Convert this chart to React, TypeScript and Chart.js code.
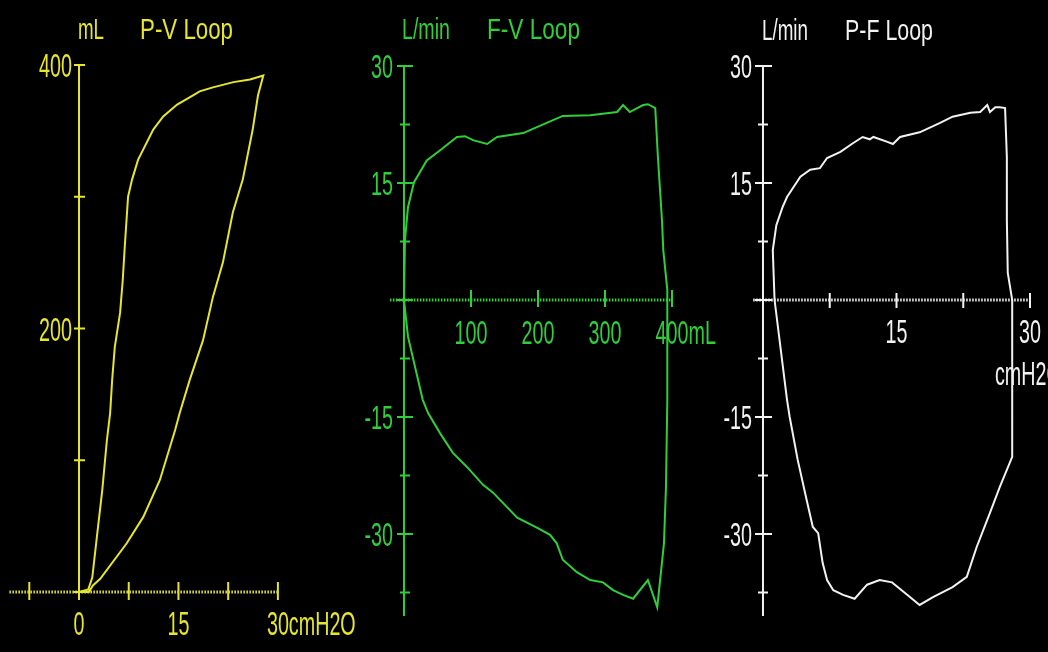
import React, { useEffect, useRef } from "react";
import { Chart, registerables } from "chart.js";

Chart.register(...registerables);

// ---------- P-V loop (pressure cmH2O, volume mL) ----------
const pvPressure = [0, 1.5, 2.1, 3.2, 7.2, 9.7, 12.2, 14.5, 15.2, 16.7, 18.7, 20.2, 21.7, 23.2, 24.7, 26.2, 27.0, 27.8, 25.8, 23.3, 20.2, 18.2, 17.2, 14.8, 12.7, 11.2, 8.9, 8.0, 7.4, 6.9, 6.6, 6.2, 5.4, 5.0, 4.7, 4.2, 3.5, 2.7, 2.0, 1.4, 0];
const pvVolume = [0, 0, 5, 10, 37, 57, 85, 123, 136, 161, 191, 224, 250, 288, 313, 351, 377, 392, 389, 387, 383, 380, 377, 370, 361, 351, 328, 313, 300, 262, 237, 212, 186, 161, 136, 115, 77, 42, 11, 2, 0];

// ---------- F-V loop (volume mL, flow L/min) ----------
const fvVolume = [0, 1.5, 6, 15, 34, 54, 79, 91, 103, 124, 139, 178, 213, 237, 278, 318, 327, 337, 348, 357, 364, 375, 379, 385, 387, 393, 393, 391, 388, 378, 364, 342, 327, 312, 297, 278, 258, 237, 228, 218, 199, 169, 133, 118, 94, 73, 54, 36, 28, 6, 0];
const fvFlow = [0, 7.7, 11.9, 15.1, 17.9, 19.2, 20.9, 21.0, 20.5, 20.0, 20.9, 21.4, 22.7, 23.6, 23.7, 24.1, 25.0, 24.1, 24.6, 25.0, 25.1, 24.6, 18.3, 10.3, 6.4, 1.3, -12.8, -24.0, -31.2, -39.4, -35.9, -38.3, -37.8, -37.2, -36.2, -35.9, -34.9, -33.3, -31.2, -30.1, -29.2, -27.9, -24.7, -23.7, -21.4, -19.6, -17.1, -14.5, -12.8, -4.7, 0];

// ---------- P-F loop (pressure cmH2O, flow L/min) ----------
const pfPressure = [1.3, 1.1, 1.5, 2.2, 2.7, 4.2, 5.3, 6.4, 7.2, 8.7, 10.1, 11.2, 12.0, 12.4, 13.9, 14.6, 15.4, 17.6, 19.9, 21.3, 23.3, 24.4, 25.2, 25.5, 26.1, 26.6, 27.2, 27.4, 27.4, 27.5, 28.0, 28.0, 26.6, 25.5, 24.0, 22.9, 21.3, 19.1, 17.6, 16.2, 14.5, 13.1, 11.7, 10.3, 9.0, 7.9, 7.2, 6.7, 6.2, 5.6, 4.9, 3.9, 3.0, 2.7, 1.3];
const pfFlow = [0, 6.4, 9.6, 11.9, 13.2, 15.8, 16.7, 16.9, 18.2, 19.0, 20.1, 20.9, 20.6, 20.9, 20.3, 20.0, 20.9, 21.5, 22.7, 23.5, 24.0, 24.1, 25.0, 24.1, 24.7, 24.7, 24.6, 18.3, 10.3, 3.5, 0, -20.1, -24.0, -27.3, -31.7, -35.5, -36.8, -38.1, -39.1, -37.8, -36.2, -35.9, -36.5, -38.3, -37.8, -37.2, -35.9, -33.7, -29.9, -29.1, -25.6, -20.5, -15.0, -12.8, 0];

// ---------- ticks & labels ----------
const pvXTicks = [-7.5, 0, 7.5, 15, 22.5, 30];
const pvXLabelValues = [0, 15, 30];
const pvXLabelTexts = ["0", "15", "30"];
const pvXLabelSuffix = ["", "", "cmH2O"];
const pvYTicks = [0, 100, 200, 300, 400];
const pvYLabelValues = [400, 200];
const pvYLabelTexts = ["400", "200"];

const flowMajorTicks = [30, 15, 0, -15, -30];
const flowMinorTicks = [22.5, 7.5, -7.5, -22.5, -37.5];
const flowLabelValues = [30, 15, -15, -30];
const flowLabelTexts = ["30", "15", "-15", "-30"];

const fvXTicks = [100, 200, 300, 400];
const fvXLabelValues = [100, 200, 300, 400];
const fvXLabelTexts = ["100", "200", "300", "400"];
const fvXLabelSuffix = ["", "", "", "mL"];

const pfXTicks = [7.5, 15, 22.5, 30];
const pfXLabelValues = [15, 30];
const pfXLabelTexts = ["15", "30"];
const pfXLabelSuffix = ["", ""];

const YELLOW = "#e6e62e";
const GREEN = "#2fcf3a";
const WHITE = "#f2f2f2";
const FONT = '"Liberation Sans", Arial, sans-serif';
const NUM_SIZE = 34;
const NUM_SX = 0.58;

function drawText(ctx: CanvasRenderingContext2D, text: string, x: number, y: number, align: CanvasTextAlign, size: number, sx: number) {
  ctx.save();
  ctx.font = `${size}px ${FONT}`;
  ctx.textAlign = align;
  ctx.textBaseline = "alphabetic";
  ctx.translate(x, y);
  ctx.scale(sx, 1);
  ctx.fillText(text, 0, 0);
  ctx.restore();
}

function drawFit(ctx: CanvasRenderingContext2D, text: string, x: number, y: number, width: number, size: number) {
  ctx.save();
  ctx.font = `${size}px ${FONT}`;
  const w = ctx.measureText(text).width;
  ctx.restore();
  drawText(ctx, text, x, y, "left", size, width / w);
}

type Deco = {
  color: string;
  yMajor: number[];
  yMinor: number[];
  yMajorExt: [number, number];
  yMinorExt: [number, number];
  xTicks: number[];
  xTickExt: [number, number];
  yLabelValues: number[];
  yLabelTexts: string[];
  yLabelGap: number;
  xLabelValues: number[];
  xLabelTexts: string[];
  xLabelSuffix: string[];
  xLabelDrop: number;
  titles: { t: string; x: number; y: number; w: number }[];
  extra?: { t: string; x: number; y: number }[];
};

function decoPlugin(d: Deco) {
  return {
    id: "loopAxes",
    afterDraw(chart: any) {
      const ctx: CanvasRenderingContext2D = chart.ctx;
      const xs = chart.scales.x;
      const ys = chart.scales.y;
      const ax = xs.getPixelForValue(0);
      const ay = ys.getPixelForValue(0);
      ctx.save();
      ctx.strokeStyle = d.color;
      ctx.fillStyle = d.color;
      // dotted x axis
      ctx.lineWidth = 3;
      ctx.setLineDash([1.5, 1.5]);
      ctx.beginPath();
      ctx.moveTo(xs.getPixelForValue(xs.min), ay);
      ctx.lineTo(xs.getPixelForValue(xs.max), ay);
      ctx.stroke();
      ctx.setLineDash([]);
      // solid y axis
      ctx.lineWidth = 2;
      ctx.beginPath();
      ctx.moveTo(ax, ys.getPixelForValue(ys.max));
      ctx.lineTo(ax, ys.getPixelForValue(ys.min));
      ctx.stroke();
      // y ticks
      const ytick = (v: number, ext: [number, number]) => {
        const p = ys.getPixelForValue(v);
        ctx.beginPath();
        ctx.moveTo(ax - ext[0], p);
        ctx.lineTo(ax + ext[1], p);
        ctx.stroke();
      };
      d.yMajor.forEach((v) => ytick(v, d.yMajorExt));
      d.yMinor.forEach((v) => ytick(v, d.yMinorExt));
      // x ticks
      d.xTicks.forEach((v) => {
        const p = xs.getPixelForValue(v);
        ctx.beginPath();
        ctx.moveTo(p, ay - d.xTickExt[0]);
        ctx.lineTo(p, ay + d.xTickExt[1]);
        ctx.stroke();
      });
      // y labels
      d.yLabelValues.forEach((v, i) => {
        drawText(ctx, d.yLabelTexts[i], ax - d.yLabelGap, ys.getPixelForValue(v) + 12, "right", NUM_SIZE, NUM_SX);
      });
      // x labels
      d.xLabelValues.forEach((v, i) => {
        const p = xs.getPixelForValue(v);
        const t = d.xLabelTexts[i];
        drawText(ctx, t, p, ay + d.xLabelDrop, "center", NUM_SIZE, NUM_SX);
        const suf = d.xLabelSuffix[i];
        if (suf) {
          ctx.save();
          ctx.font = `${NUM_SIZE}px ${FONT}`;
          const w = ctx.measureText(t).width * NUM_SX;
          ctx.restore();
          drawText(ctx, suf, p + w / 2, ay + d.xLabelDrop, "left", NUM_SIZE, NUM_SX);
        }
      });
      (d.extra || []).forEach((e) => drawText(ctx, e.t, e.x, e.y, "left", NUM_SIZE, NUM_SX));
      d.titles.forEach((t) => drawFit(ctx, t.t, t.x, t.y, t.w, 30));
      ctx.restore();
    },
  };
}

function makeChart(
  canvas: HTMLCanvasElement,
  xv: number[],
  yv: number[],
  color: string,
  range: { xmin: number; xmax: number; ymin: number; ymax: number },
  padding: { left: number; right: number; top: number; bottom: number },
  deco: Deco
) {
  return new Chart(canvas, {
    type: "scatter",
    data: {
      datasets: [
        {
          data: xv.map((x, i) => ({ x, y: yv[i] })),
          showLine: true,
          borderColor: color,
          borderWidth: 2,
          pointRadius: 0,
          fill: false,
          tension: 0,
          clip: false as any,
        },
      ],
    },
    options: {
      animation: false,
      responsive: false,
      events: [],
      layout: { padding },
      plugins: { legend: { display: false }, tooltip: { enabled: false }, title: { display: false } },
      scales: {
        x: { type: "linear", min: range.xmin, max: range.xmax, display: false },
        y: { type: "linear", min: range.ymin, max: range.ymax, display: false },
      },
    },
    plugins: [decoPlugin(deco) as any],
  });
}

export default function App() {
  const c1 = useRef<HTMLCanvasElement>(null);
  const c2 = useRef<HTMLCanvasElement>(null);
  const c3 = useRef<HTMLCanvasElement>(null);

  useEffect(() => {
    document.body.style.margin = "0";
    document.body.style.background = "#000";
    const charts: Chart[] = [];
    charts.push(
      makeChart(
        c1.current!,
        pvPressure,
        pvVolume,
        YELLOW,
        { xmin: -10.5, xmax: 30, ymin: 0, ymax: 400 },
        { left: 9.4, right: 1048 - 277.9, top: 65, bottom: 652 - 592 },
        {
          color: YELLOW,
          yMajor: pvYTicks,
          yMinor: [],
          yMajorExt: [5, 6],
          yMinorExt: [5, 6],
          xTicks: pvXTicks,
          xTickExt: [10, 8],
          yLabelValues: pvYLabelValues,
          yLabelTexts: pvYLabelTexts,
          yLabelGap: 7,
          xLabelValues: pvXLabelValues,
          xLabelTexts: pvXLabelTexts,
          xLabelSuffix: pvXLabelSuffix,
          xLabelDrop: 43,
          titles: [
            { t: "mL", x: 78, y: 39, w: 26 },
            { t: "P-V Loop", x: 140, y: 39, w: 93 },
          ],
        }
      )
    );
    charts.push(
      makeChart(
        c2.current!,
        fvVolume,
        fvFlow,
        GREEN,
        { xmin: -21, xmax: 400, ymin: -40.5, ymax: 30 },
        { left: 389.9, right: 1048 - 672, top: 66, bottom: 652 - 615.9 },
        {
          color: GREEN,
          yMajor: flowMajorTicks,
          yMinor: flowMinorTicks,
          yMajorExt: [7, 9],
          yMinorExt: [4, 6],
          xTicks: fvXTicks,
          xTickExt: [10, 7],
          yLabelValues: flowLabelValues,
          yLabelTexts: flowLabelTexts,
          yLabelGap: 11,
          xLabelValues: fvXLabelValues,
          xLabelTexts: fvXLabelTexts,
          xLabelSuffix: fvXLabelSuffix,
          xLabelDrop: 44,
          titles: [
            { t: "L/min", x: 402, y: 39, w: 48 },
            { t: "F-V Loop", x: 487, y: 39, w: 93 },
          ],
        }
      )
    );
    charts.push(
      makeChart(
        c3.current!,
        pfPressure,
        pfFlow,
        WHITE,
        { xmin: -1.1, xmax: 30, ymin: -40.5, ymax: 30 },
        { left: 753.2, right: 1048 - 1030, top: 66, bottom: 652 - 615.9 },
        {
          color: WHITE,
          yMajor: flowMajorTicks,
          yMinor: flowMinorTicks,
          yMajorExt: [8, 9],
          yMinorExt: [5, 5],
          xTicks: pfXTicks,
          xTickExt: [7, 8],
          yLabelValues: flowLabelValues,
          yLabelTexts: flowLabelTexts,
          yLabelGap: 11,
          xLabelValues: pfXLabelValues,
          xLabelTexts: pfXLabelTexts,
          xLabelSuffix: pfXLabelSuffix,
          xLabelDrop: 43,
          titles: [
            { t: "L/min", x: 762, y: 40, w: 46 },
            { t: "P-F Loop", x: 845, y: 40, w: 88 },
          ],
          extra: [{ t: "cmH2O", x: 995, y: 385 }],
        }
      )
    );
    return () => charts.forEach((c) => c.destroy());
  }, []);

  const cs: React.CSSProperties = { position: "absolute", left: 0, top: 0, width: 1048, height: 652 };
  return (
    <div style={{ position: "fixed", left: 0, top: 0, width: 1048, height: 652, background: "#000", overflow: "hidden" }}>
      <canvas ref={c1} width={1048} height={652} style={cs} />
      <canvas ref={c2} width={1048} height={652} style={cs} />
      <canvas ref={c3} width={1048} height={652} style={cs} />
    </div>
  );
}
